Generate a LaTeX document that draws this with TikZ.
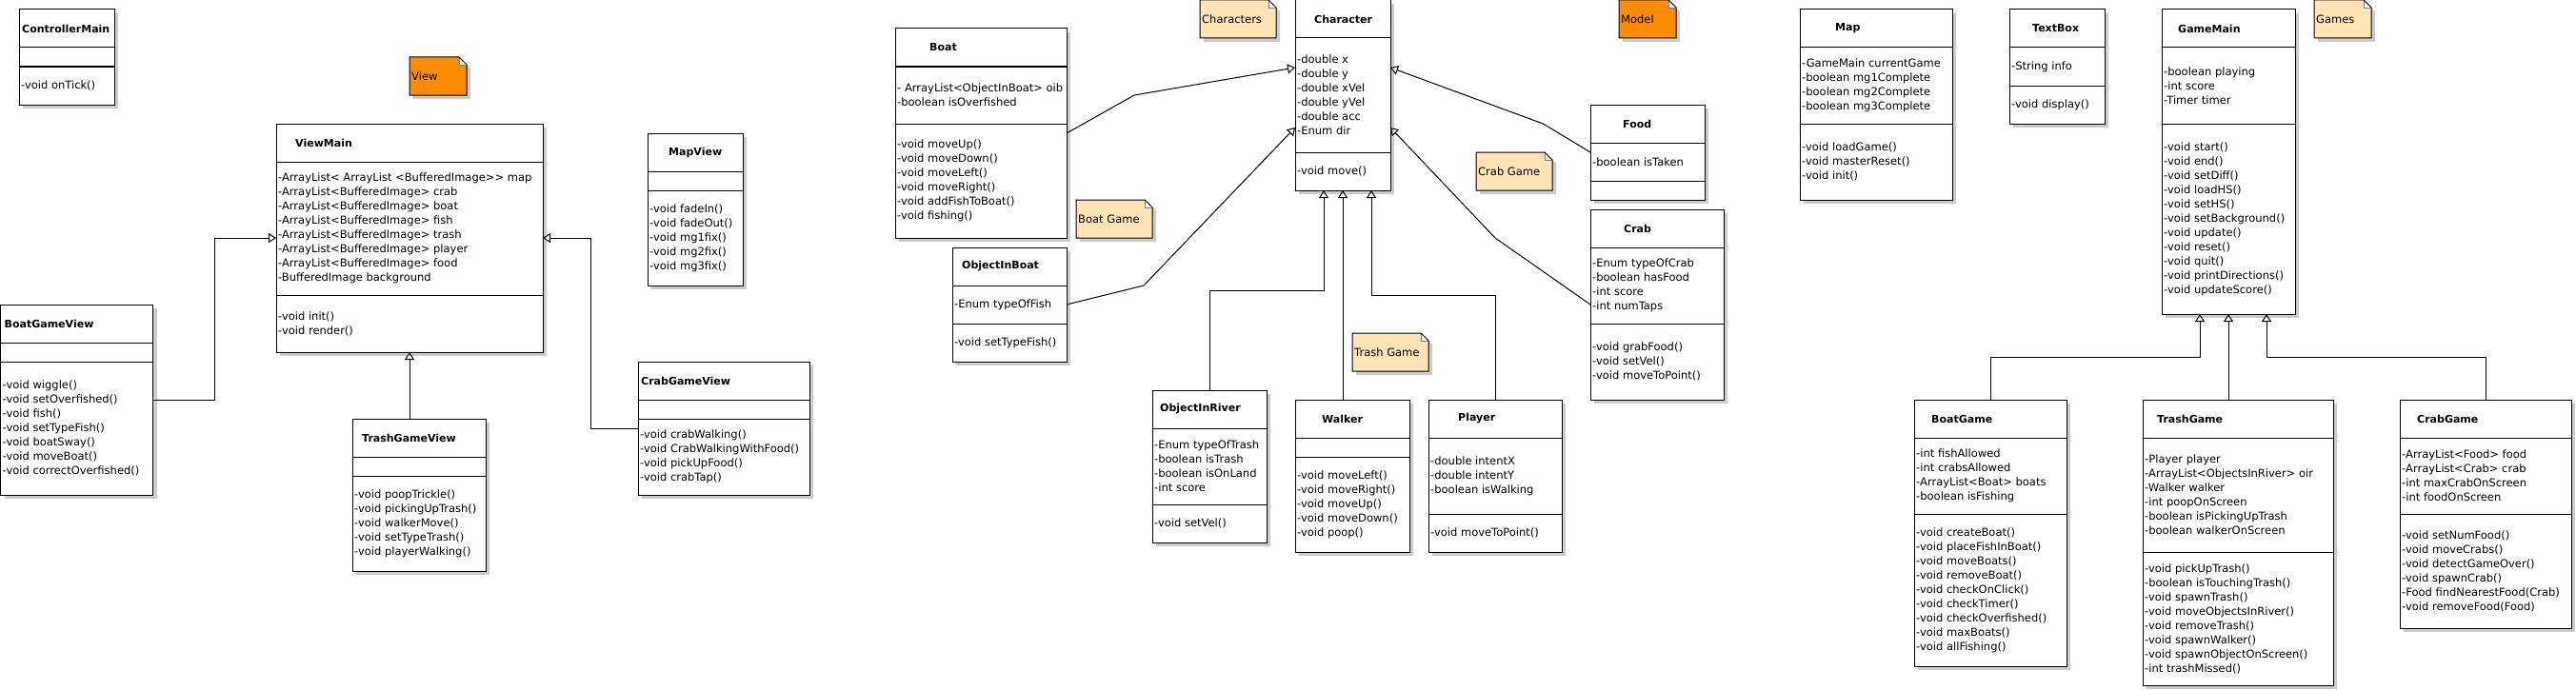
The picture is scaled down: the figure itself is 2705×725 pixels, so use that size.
\documentclass[tikz,border=0pt]{standalone}
\usepackage{fontspec}
\setmainfont{DejaVu Sans}
\usetikzlibrary{arrows.meta}
\definecolor{shadowc}{RGB}{204,204,204}
\definecolor{notefill}{RGB}{255,228,181}
\definecolor{noteorange}{RGB}{255,140,0}
\tikzset{
 clsbox/.style={draw=black, fill=white, line width=1pt, inner sep=0pt, outer sep=0pt, rectangle},
 clsline/.style={draw=black, line width=1pt},
 titletext/.style={font=\fontsize{11}{15}\selectfont\bfseries, inner sep=0pt, anchor=west},
 membertext/.style={font=\fontsize{11.5}{15}\selectfont, inner sep=0pt, anchor=west, align=left},
 notetext/.style={font=\fontsize{11.5}{15}\selectfont, inner sep=0pt, anchor=west},
 gen/.style={draw=black, line width=1pt, -{Triangle[open, length=8pt, width=10pt]}},
}
\newcommand\umlclass[5]{%
 \fill[shadowc] (#2+4,#3+4) rectangle ++(#4,#5);
 \node[clsbox, minimum width=#4pt, minimum height=#5pt, anchor=north west] (#1) at (#2,#3) {};}
\newcommand\udiv[2]{\draw[clsline] ([yshift=-#2pt]#1.north west) -- ([yshift=-#2pt]#1.north east);}
\newcommand\utitle[3]{\node[titletext] (#1t) at ([xshift=#2pt,yshift=-20pt]#1.north west) {#3};}
\newcommand\umem[4]{\node[membertext] (#1#2) at ([xshift=2pt,yshift=-#3pt]#1.north west) {#4};}
\newcommand\unote[6]{%
 \node[inner sep=0pt, outer sep=0pt, minimum width=#4pt, minimum height=40pt, anchor=north west] (#1) at (#2,#3) {};
 \fill[shadowc] ([xshift=4pt,yshift=-4pt]#1.north west) -- ([xshift=-4pt,yshift=-4pt]#1.north east) -- ([xshift=4pt,yshift=-12pt]#1.north east) -- ([xshift=4pt,yshift=-4pt]#1.south east) -- ([xshift=4pt,yshift=-4pt]#1.south west) -- cycle;
 \filldraw[fill=#5, draw=black, line width=1pt] (#1.north west) -- ([xshift=-8pt]#1.north east) -- ([yshift=-8pt]#1.north east) -- (#1.south east) -- (#1.south west) -- cycle;
 \filldraw[fill=white, draw=gray, line width=0.6pt] ([xshift=-8pt]#1.north east) -- ([xshift=-8pt,yshift=-8pt]#1.north east) -- ([yshift=-8pt]#1.north east);
 \draw[black, line width=1pt] ([xshift=-8pt]#1.north east) -- ([yshift=-8pt]#1.north east);
 \node[notetext] (#1t) at ([xshift=2pt]#1.west) {#6};}
\begin{document}
\begin{tikzpicture}[x=1pt,y=-1pt]
\fill[white] (0,0) rectangle (2705,725);
\useasboundingbox (0,0) rectangle (2705,725);

% ---------------- View side ----------------
\umlclass{cm}{20}{10}{100}{100}
\udiv{cm}{40}\udiv{cm}{60}
\utitle{cm}{3}{ControllerMain}
\umem{cm}{m}{80}{-void onTick()}

\unote{viewnote}{430}{60}{60}{noteorange}{View}

\umlclass{vm}{290}{130}{280}{240}
\udiv{vm}{40}\udiv{vm}{180}
\utitle{vm}{20}{ViewMain}
\umem{vm}{a}{110}{-ArrayList< ArrayList <BufferedImage>{}> map\\-ArrayList<BufferedImage> crab\\-ArrayList<BufferedImage> boat\\-ArrayList<BufferedImage> fish\\-ArrayList<BufferedImage> trash\\-ArrayList<BufferedImage> player\\-ArrayList<BufferedImage> food\\-BufferedImage background}
\umem{vm}{m}{210}{-void init()\\-void render()}

\umlclass{mv}{680}{140}{100}{160}
\udiv{mv}{40}\udiv{mv}{60}
\utitle{mv}{22}{MapView}
\umem{mv}{m}{110}{-void fadeIn()\\-void fadeOut()\\-void mg1fix()\\-void mg2fix()\\-void mg3fix()}

\umlclass{bgv}{0.5}{320}{160}{200}
\udiv{bgv}{40}\udiv{bgv}{60}
\utitle{bgv}{4}{BoatGameView}
\umem{bgv}{m}{130}{-void wiggle()\\-void setOverfished()\\-void fish()\\-void setTypeFish()\\-void boatSway()\\-void moveBoat()\\-void correctOverfished()}

\umlclass{tgv}{370}{440}{140}{160}
\udiv{tgv}{40}\udiv{tgv}{60}
\utitle{tgv}{10}{TrashGameView}
\umem{tgv}{m}{110}{-void poopTrickle()\\-void pickingUpTrash()\\-void walkerMove()\\-void setTypeTrash()\\-void playerWalking()}

\umlclass{cgv}{670}{380}{180}{140}
\udiv{cgv}{40}\udiv{cgv}{60}
\utitle{cgv}{3}{CrabGameView}
\umem{cgv}{m}{100}{-void crabWalking()\\-void CrabWalkingWithFood()\\-void pickUpFood()\\-void crabTap()}

% ---------------- Characters ----------------
\umlclass{boat}{940}{30}{180}{220}
\udiv{boat}{40}\udiv{boat}{100}
\utitle{boat}{36}{Boat}
\umem{boat}{a}{70}{- ArrayList<ObjectInBoat> oib\\-boolean isOverfished}
\umem{boat}{m}{160}{-void moveUp()\\-void moveDown()\\-void moveLeft()\\-void moveRight()\\-void addFishToBoat()\\-void fishing()}

\unote{boatnote}{1130}{210}{80}{notefill}{Boat Game}

\umlclass{oib}{1000}{260}{120}{120}
\udiv{oib}{40}\udiv{oib}{80}
\utitle{oib}{10}{ObjectInBoat}
\umem{oib}{a}{60}{-Enum typeOfFish}
\umem{oib}{m}{100}{-void setTypeFish()}

\unote{charnote}{1260}{0}{80}{notefill}{Characters}

\umlclass{character}{1360}{0}{100}{200}
\udiv{character}{40}\udiv{character}{160}
\utitle{character}{20}{Character}
\umem{character}{a}{100}{-double x\\-double y\\-double xVel\\-double yVel\\-double acc\\-Enum dir}
\umem{character}{m}{180}{-void move()}

\unote{trashnote}{1420}{350}{80}{notefill}{Trash Game}

\umlclass{oir}{1210}{410}{120}{160}
\udiv{oir}{40}\udiv{oir}{120}
\utitle{oir}{8}{ObjectInRiver}
\umem{oir}{a}{80}{-Enum typeOfTrash\\-boolean isTrash\\-boolean isOnLand\\-int score}
\umem{oir}{m}{140}{-void setVel()}

\umlclass{walker}{1360}{420}{120}{160}
\udiv{walker}{40}\udiv{walker}{60}
\utitle{walker}{28}{Walker}
\umem{walker}{m}{110}{-void moveLeft()\\-void moveRight()\\-void moveUp()\\-void moveDown()\\-void poop()}

\umlclass{player}{1500}{420}{140}{160}
\udiv{player}{40}\udiv{player}{120}
\utitle{player}{31}{Player}
\umem{player}{a}{80}{-double intentX\\-double intentY\\-boolean isWalking}
\umem{player}{m}{140}{-void moveToPoint()}

\unote{crabnote}{1550}{160}{80}{notefill}{Crab Game}

\unote{modelnote}{1700}{0}{60}{noteorange}{Model}

\umlclass{food}{1670}{110}{120}{100}
\udiv{food}{40}\udiv{food}{80}
\utitle{food}{34}{Food}
\umem{food}{a}{60}{-boolean isTaken}

\umlclass{crab}{1670}{220}{140}{200}
\udiv{crab}{40}\udiv{crab}{120}
\utitle{crab}{35}{Crab}
\umem{crab}{a}{80}{-Enum typeOfCrab\\-boolean hasFood\\-int score\\-int numTaps}
\umem{crab}{m}{160}{-void grabFood()\\-void setVel()\\-void moveToPoint()}

% ---------------- Games ----------------
\umlclass{map}{1890}{10}{160}{200}
\udiv{map}{40}\udiv{map}{120}
\utitle{map}{37}{Map}
\umem{map}{a}{80}{-GameMain currentGame\\-boolean mg1Complete\\-boolean mg2Complete\\-boolean mg3Complete}
\umem{map}{m}{160}{-void loadGame()\\-void masterReset()\\-void init()}

\umlclass{tb}{2110}{10}{100}{120}
\udiv{tb}{40}\udiv{tb}{80}
\utitle{tb}{24}{TextBox}
\umem{tb}{a}{60}{-String info}
\umem{tb}{m}{100}{-void display()}

\umlclass{gm}{2270}{10}{140}{320}
\udiv{gm}{40}\udiv{gm}{120}
\utitle{gm}{17}{GameMain}
\umem{gm}{a}{80}{-boolean playing\\-int score\\-Timer timer}
\umem{gm}{m}{220}{-void start()\\-void end()\\-void setDiff()\\-void loadHS()\\-void setHS()\\-void setBackground()\\-void update()\\-void reset()\\-void quit()\\-void printDirections()\\-void updateScore()}

\unote{gamesnote}{2430}{0}{60}{notefill}{Games}

\umlclass{bg}{2010}{420}{160}{280}
\udiv{bg}{40}\udiv{bg}{120}
\utitle{bg}{18}{BoatGame}
\umem{bg}{a}{80}{-int fishAllowed\\-int crabsAllowed\\-ArrayList<Boat> boats\\-boolean isFishing}
\umem{bg}{m}{200}{-void createBoat()\\-void placeFishInBoat()\\-void moveBoats()\\-void removeBoat()\\-void checkOnClick()\\-void checkTimer()\\-void checkOverfished()\\-void maxBoats()\\-void allFishing()}

\umlclass{tg}{2250}{420}{200}{300}
\udiv{tg}{40}\udiv{tg}{160}
\utitle{tg}{15}{TrashGame}
\umem{tg}{a}{100}{-Player player\\-ArrayList<ObjectsInRiver> oir\\-Walker walker\\-int poopOnScreen\\-boolean isPickingUpTrash\\-boolean walkerOnScreen}
\umem{tg}{m}{230}{-void pickUpTrash()\\-boolean isTouchingTrash()\\-void spawnTrash()\\-void moveObjectsInRiver()\\-void removeTrash()\\-void spawnWalker()\\-void spawnObjectOnScreen()\\-int trashMissed()}

\umlclass{cg}{2520}{420}{180}{240}
\udiv{cg}{40}\udiv{cg}{120}
\utitle{cg}{18}{CrabGame}
\umem{cg}{a}{80}{-ArrayList<Food> food\\-ArrayList<Crab> crab\\-int maxCrabOnScreen\\-int foodOnScreen}
\umem{cg}{m}{180}{-void setNumFood()\\-void moveCrabs()\\-void detectGameOver()\\-void spawnCrab()\\-Food findNearestFood(Crab)\\-void removeFood(Food)}

% ---------------- Connectors ----------------
\draw[gen] ([yshift=-100pt]bgv.north east) -- ++(65,0) |- ([yshift=-120pt]vm.north west);
\draw[gen] (tgv.north -| vm.south) -- (vm.south);
\draw[gen] ([yshift=-70pt]cgv.north west) -- ++(-49.5,0) |- ([yshift=-120pt]vm.north east);

\draw[gen] ([yshift=-110pt]boat.north east) -- ++(71,-40) -- ([yshift=-71pt]character.north west);
\draw[gen] ([yshift=-60pt]oib.north east) -- ++(81,-20) -- ([yshift=-134pt]character.north west);
\draw[gen] (oir.north) -- ++(0,-104.7) -| ([xshift=30pt]character.south west);
\draw[gen] ([xshift=50pt]walker.north west) -- ([xshift=50pt]character.south west);
\draw[gen] (player.north) -- ++(0,-109.7) -| ([xshift=80pt]character.south west);
\draw[gen] ([yshift=-50pt]food.north west) -- ++(-49.6,-30) -- ([yshift=-71pt]character.north east);
\draw[gen] ([yshift=-100pt]crab.north west) -- ++(-100,-70) -- ([yshift=-134pt]character.north east);

\draw[gen] (bg.north) -- ++(0,-44.7) -| ([xshift=40pt]gm.south west);
\draw[gen] (tg.north -| gm.south) -- (gm.south);
\draw[gen] (cg.north) -- ++(0,-44.7) -| ([xshift=110pt]gm.south west);
\end{tikzpicture}
\end{document}
